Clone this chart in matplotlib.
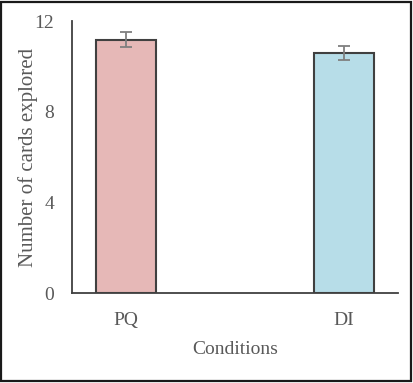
import matplotlib
matplotlib.use('Agg')
import matplotlib.pyplot as plt
from matplotlib.patches import Rectangle

plt.rc('font', family='Liberation Serif')

conditions = ['PQ', 'DI']
cards_mean = [11.18, 10.59]
cards_err = [0.33, 0.31]
bar_colors = ['#E6B8B7', '#B7DDE8']
yticks = [0, 4, 8, 12]

text_color = '#595959'

fig = plt.figure(figsize=(4.14, 3.83), dpi=100)
ax = fig.add_axes([72 / 414, 90 / 383, 326 / 414, 272 / 383])

x = list(range(len(conditions)))
ax.bar(x, cards_mean, width=0.275, color=bar_colors, edgecolor='#404040', linewidth=1.5, zorder=2)
ax.errorbar(x, cards_mean, yerr=cards_err, fmt='none', ecolor='#7f7f7f', elinewidth=1.3,
            capsize=4, capthick=1.3, zorder=3)

ax.set_xlim(-0.248, 1.248)
ax.set_ylim(0, 12)
ax.set_xticks(x)
ax.set_xticklabels(conditions, fontsize=14, color=text_color)
ax.set_yticks(yticks)
ax.set_yticklabels([str(t) for t in yticks], fontsize=14, color=text_color)
ax.tick_params(axis='x', length=0, pad=14)
ax.tick_params(axis='y', length=0, pad=13)

for s in ['top', 'right']:
    ax.spines[s].set_visible(False)
for s in ['left', 'bottom']:
    ax.spines[s].set_color('#404040')
    ax.spines[s].set_linewidth(1.3)

ax.set_xlabel('Conditions', fontsize=14, color=text_color)
ax.xaxis.set_label_coords(0.5, -0.175)
ax.set_ylabel('Number of cards explored', fontsize=15, color=text_color, va='center')
ax.yaxis.set_label_coords(-0.135, 0.5)

# frame round the whole picture
fig.patches.append(Rectangle((0.002, 0.004), 0.99, 0.992, transform=fig.transFigure,
                             fill=False, edgecolor='#1a1a1a', linewidth=1.6))

fig.savefig('out.png', dpi=100)
